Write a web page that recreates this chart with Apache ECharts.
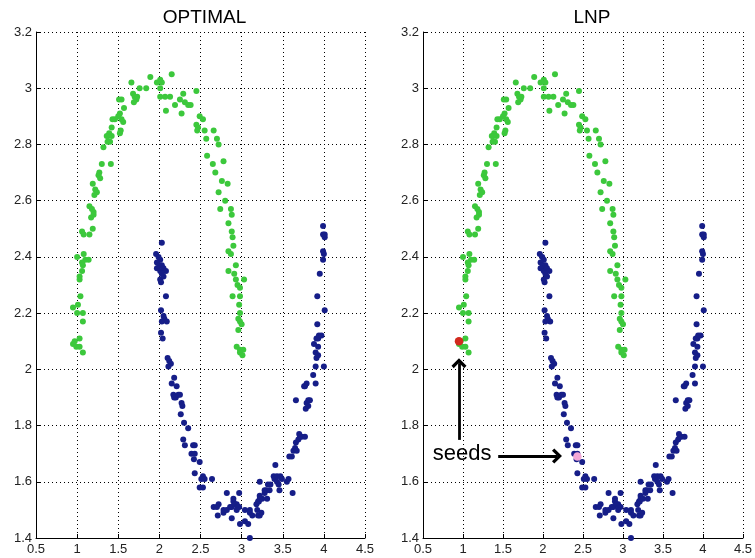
<!DOCTYPE html>
<html>
<head>
<meta charset="utf-8">
<script src="https://cdn.jsdelivr.net/npm/echarts@6/dist/echarts.min.js"></script>
<style>
  html, body { margin: 0; padding: 0; background: #fff; }
  #chart { width: 755px; height: 558px; }
</style>
</head>
<body>
<div id="chart"></div>
<script>
// Two-moons data set: upper moon (class 1) and lower moon (class 2)
const greenPoints = [
  [1.66,3.02],[1.89,3.04],[1.76,3.00],[1.84,3.00],[1.97,3.02],[2.01,3.03],[2.03,3.02],[2.15,3.05],
  [2.01,3.00],[2.01,2.97],[2.07,2.97],[2.13,2.97],[1.68,2.98],[1.70,2.97],[1.73,2.97],[1.72,2.96],
  [1.54,2.96],[1.51,2.96],[1.69,2.95],[1.57,2.93],[1.52,2.91],[1.50,2.90],[1.46,2.89],[1.43,2.89],
  [1.56,2.88],[1.54,2.89],[1.42,2.86],[1.39,2.84],[1.36,2.83],[1.38,2.83],[1.42,2.83],[1.40,2.81],
  [1.37,2.81],[1.53,2.85],[1.52,2.84],[1.32,2.79],[1.30,2.73],[1.41,2.73],[1.27,2.70],[1.26,2.69],
  [1.28,2.68],[1.19,2.66],[1.22,2.64],[1.24,2.63],[1.21,2.62],[1.15,2.58],[1.18,2.57],[1.20,2.56],
  [1.20,2.55],[1.17,2.54],
  [1.06,2.49],[1.08,2.48],[1.15,2.48],[1.19,2.50],[1.00,2.40],[1.08,2.41],[1.10,2.39],[1.14,2.39],
  [1.06,2.38],[1.07,2.37],[1.06,2.35],[1.03,2.33],[1.03,2.32],[1.04,2.26],[1.01,2.23],[0.95,2.22],
  [1.00,2.20],[1.07,2.20],[1.07,2.17],[1.03,2.11],[0.95,2.09],[0.99,2.08],[1.03,2.08],[1.07,2.06],
  [0.97,2.10],
  [2.29,2.98],[2.25,2.96],[2.31,2.95],[2.35,2.94],[2.38,2.94],[2.19,2.94],[2.08,2.92],[2.27,2.91],
  [2.45,2.99],[2.49,2.90],[2.53,2.89],[2.45,2.87],[2.47,2.86],[2.46,2.85],[2.55,2.85],[2.57,2.82],
  [2.66,2.85],[2.70,2.82],[2.72,2.80],[2.58,2.76],[2.65,2.73],[2.78,2.74],[2.68,2.70],[2.76,2.67],
  [2.83,2.66],[2.72,2.63],[2.80,2.60],[2.87,2.57],[2.74,2.57],
  [2.88,2.55],[2.84,2.52],[2.88,2.49],[2.89,2.47],[2.90,2.44],[2.84,2.42],[2.87,2.41],[2.93,2.37],
  [2.84,2.35],[2.91,2.34],[3.03,2.32],[2.93,2.32],[2.95,2.30],[2.98,2.29],[2.89,2.26],[2.98,2.26],
  [2.97,2.23],[2.98,2.20],[2.96,2.18],[2.98,2.17],[3.00,2.16],[2.96,2.14],[2.94,2.08],[2.98,2.07],
  [3.02,2.07],[2.98,2.06],[3.01,2.05]
];

const bluePoints = [
  [2.03,2.45],[1.96,2.41],[1.99,2.40],[2.01,2.39],[1.97,2.38],[2.00,2.37],[2.03,2.37],[1.97,2.36],
  [2.01,2.35],[2.05,2.36],[2.08,2.35],[2.03,2.34],[2.01,2.32],[2.05,2.33],[2.02,2.31],[2.08,2.26],
  [2.02,2.21],[2.05,2.19],[2.06,2.18],[2.09,2.17],[2.03,2.17],[2.02,2.13],[2.04,2.11],[2.10,2.04],
  [2.12,2.03],[2.14,2.02],[2.11,2.01],[2.18,1.97],[2.15,1.95],[2.21,1.94],[2.17,1.91],[2.20,1.90],
  [2.18,1.90],[2.23,1.91],[2.25,1.91],[2.27,1.88],[2.28,1.87],[2.26,1.84],[2.30,1.81],[2.35,1.79],
  [2.29,1.75],[2.31,1.73],[2.41,1.73],[2.43,1.73],[2.39,1.70],[2.43,1.70],[2.42,1.68],[2.49,1.67],
  [2.43,1.63],[2.53,1.62],[2.55,1.61],[2.51,1.61],[2.64,1.61],[2.49,1.58],[2.53,1.58],
  [2.66,1.51],[2.72,1.52],[2.71,1.48],[2.70,1.51],[2.78,1.49],[2.82,1.56],[2.78,1.50],[2.82,1.50],
  [2.86,1.51],[2.88,1.51],[2.90,1.54],[2.90,1.53],[2.94,1.52],[2.92,1.52],[2.95,1.51],[2.97,1.56],
  [2.97,1.51],[2.88,1.47],[2.94,1.50],[2.98,1.45],[3.04,1.46],[3.08,1.45],[3.04,1.50],[3.10,1.50],
  [3.10,1.49],[3.13,1.48],[3.10,1.40],[3.19,1.50],[3.18,1.52],[3.20,1.53],[3.21,1.53],[3.22,1.55],
  [3.22,1.54],[3.25,1.54],[3.20,1.48],[3.22,1.48],[3.24,1.49],[3.28,1.56],[3.28,1.57],[3.31,1.54],
  [3.30,1.57],[3.32,1.59],[3.35,1.59],[3.34,1.57],[3.22,1.60],[3.39,1.62],[3.40,1.61],[3.43,1.60],
  [3.43,1.62],[3.47,1.62],[3.45,1.59],[3.46,1.57],[3.41,1.66],[3.49,1.61],[3.55,1.60],[3.57,1.61],
  [3.62,1.56],
  [3.58,1.69],[3.61,1.69],[3.63,1.71],[3.65,1.72],[3.66,1.74],[3.69,1.75],[3.71,1.76],[3.73,1.76],
  [3.70,1.77],[3.77,1.76],[3.67,1.71],[3.66,1.89],[3.78,1.86],[3.81,1.89],[3.79,1.88],[3.83,1.89],
  [3.77,1.94],[3.79,1.95],[3.76,1.94],[3.87,1.98],[3.90,1.95],[3.81,1.87],[3.90,2.01],[4.00,2.01],
  [3.91,2.04],[3.93,2.05],[3.90,2.06],[3.93,2.08],[3.88,2.09],[3.91,2.11],[3.93,2.11],[3.94,2.12],
  [3.97,2.12],[3.92,2.16],[4.01,2.21],[3.92,2.26],[3.95,2.34],[3.99,2.39],[4.00,2.41],[3.99,2.42],
  [4.01,2.47],[3.99,2.48],[4.01,2.48],[3.99,2.51]
];

// Labelled seeds used by LNP
const seedRed = [[0.95, 2.10]];
const seedPink = [[2.43, 1.69]];

// Annotation arrows (data coordinates) and caption anchor
const seedArrows = [
  [[0.95, 1.749], [0.95, 2.022]],
  [[1.44, 1.692], [2.175, 1.692]]
];
const seedCaptionAt = [0.99, 1.70];

const panelTitles = ['OPTIMAL', 'LNP'];
const xRange = [0.5, 4.5], xStep = 0.5;
const yRange = [1.4, 3.2], yStep = 0.2;

const FONT = 'Liberation Sans, Arial, Helvetica, sans-serif';
const GREEN = '#3cc83c';
const BLUE = '#161e88';
const DOT = 6;

const grids = [
  { left: 36, top: 32, width: 329, height: 506 },
  { left: 423, top: 32, width: 330, height: 506 }
];

function xAxisFor(i) {
  return {
    gridIndex: i, type: 'value', min: xRange[0], max: xRange[1], interval: xStep,
    axisLine: { show: true, onZero: false, lineStyle: { color: '#000', width: 1 } },
    axisTick: { show: true, inside: true, length: 4, lineStyle: { color: '#000' } },
    axisLabel: { color: '#222', fontSize: 13, fontFamily: FONT, margin: 5 },
    splitLine: { show: true, lineStyle: { color: '#000', width: 1, type: [1, 3] } }
  };
}
function yAxisFor(i) {
  return {
    gridIndex: i, type: 'value', min: yRange[0], max: yRange[1], interval: yStep,
    axisLine: { show: true, onZero: false, lineStyle: { color: '#000', width: 1 } },
    axisTick: { show: true, inside: true, length: 4, lineStyle: { color: '#000' } },
    axisLabel: { color: '#222', fontSize: 13, fontFamily: FONT, margin: 4 },
    splitLine: { show: true, lineStyle: { color: '#000', width: 1, type: [1, 3] } }
  };
}

function dots(data, i, color, size) {
  return {
    type: 'scatter', xAxisIndex: i, yAxisIndex: i, data: data,
    symbol: 'circle', symbolSize: size, silent: true,
    itemStyle: { color: color, opacity: 1 }
  };
}

// Open chevron arrowhead pointing up (rotated by ECharts along the line)
const chevron = 'path://M6,0 L12,6 L10.2,7.8 L6,3.6 L1.8,7.8 L0,6 Z';

const redSeed = dots(seedRed, 1, '#d22a1e', 8.5);
redSeed.z = 5;
redSeed.markLine = {
  silent: true, animation: false,
  symbol: ['none', chevron], symbolSize: [15, 10],
  label: { show: false },
  lineStyle: { color: '#000', width: 2.8, type: 'solid' },
  data: seedArrows.map(a => [{ coord: a[0] }, { coord: a[1] }])
};
redSeed.markPoint = {
  silent: true, animation: false,
  symbol: 'rect', symbolSize: 1, itemStyle: { color: 'rgba(0,0,0,0)' },
  label: { show: true, position: 'inside', formatter: 'seeds', fontSize: 22, fontFamily: FONT, color: '#000' },
  data: [{ coord: seedCaptionAt }]
};
const pinkSeed = dots(seedPink, 1, '#f3a8d6', 8.5);
pinkSeed.z = 5;

const option = {
  animation: false,
  backgroundColor: '#fff',
  grid: grids,
  xAxis: [xAxisFor(0), xAxisFor(1)],
  yAxis: [yAxisFor(0), yAxisFor(1)],
  graphic: panelTitles.map((t, i) => ({
    type: 'text',
    x: grids[i].left + grids[i].width / 2 + 4,
    y: 8,
    style: { text: t, textAlign: 'center', fill: '#000', font: '19px ' + FONT }
  })),
  series: [
    dots(greenPoints, 0, GREEN, DOT),
    dots(bluePoints, 0, BLUE, DOT),
    dots(greenPoints, 1, GREEN, DOT),
    dots(bluePoints, 1, BLUE, DOT),
    redSeed,
    pinkSeed
  ]
};

const chart = echarts.init(document.getElementById('chart'), null, { renderer: 'canvas' });
chart.setOption(option);
</script>
</body>
</html>
